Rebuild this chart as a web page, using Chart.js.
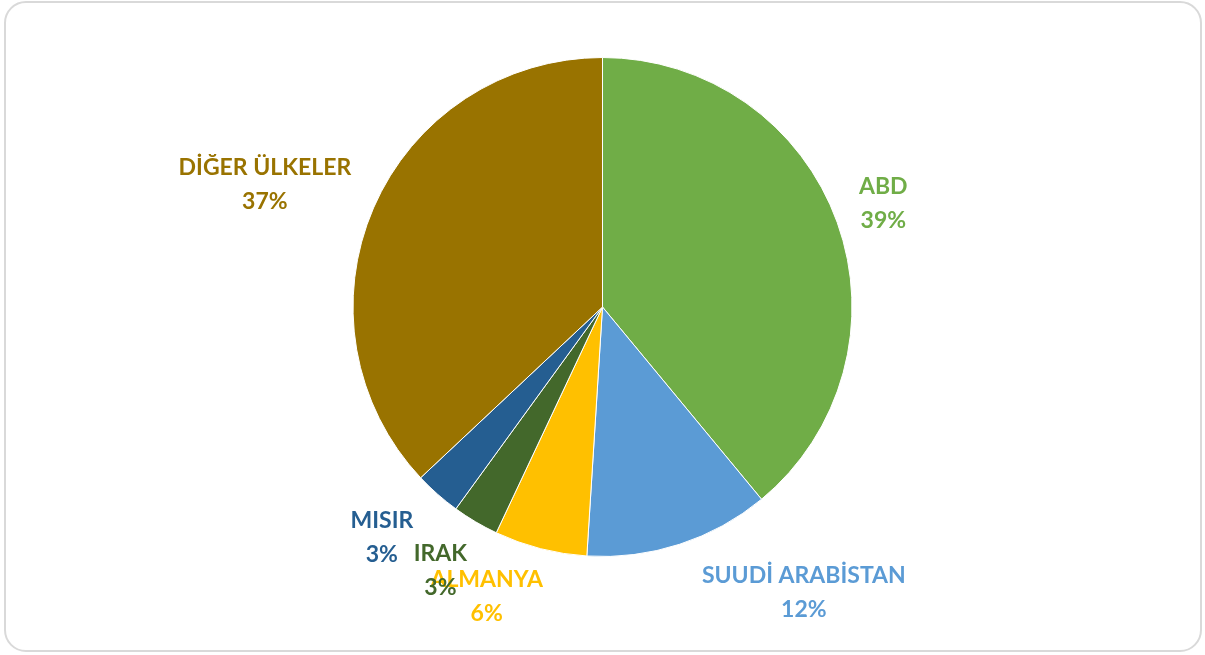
<!DOCTYPE html>
<html>
<head>
<meta charset="utf-8">
<script src="https://cdn.jsdelivr.net/npm/chart.js@4/dist/chart.umd.min.js"></script>
<style>
  html,body{ margin:0; padding:0; background:#fff; }
  #wrap{ position:relative; width:1205px; height:655px; }
  #frame{ position:absolute; left:4px; top:1px; width:1194px; height:647px; border:2px solid #d9d9d9; border-radius:22px; }
  #pie{ position:absolute; left:0; top:0; }
</style>
</head>
<body>
<div id="wrap">
  <div id="frame"></div>
  <canvas id="pie" width="1205" height="655"></canvas>
</div>
<script>
// ----- data -----
const countries = ["ABD", "SUUDİ ARABİSTAN", "ALMANYA", "IRAK", "MISIR", "DİĞER ÜLKELER"];
const shares = [39, 12, 6, 3, 3, 37];
const sliceColors = ["#70ad47", "#5b9bd5", "#ffc000", "#43682b", "#255e91", "#997300"];

// label placement: distance (x radius) and angle nudge (deg) per slice
const labelDist = [1.2, 1.40, 1.25, 1.24, 1.28, 1.44];
const labelShift = [-0.5, -17.2, 7.4, 1.0, 2.3, -3.4];

// ----- outside labels, Excel style -----
const outsideLabels = {
  id: "outsideLabels",
  afterDatasetsDraw(chart){
    const ctx = chart.ctx;
    const meta = chart.getDatasetMeta(0);
    const total = shares.reduce((a,b)=>a+b,0);
    ctx.save();
    ctx.font = "bold 23px Lato, 'Open Sans', sans-serif";
    ctx.textAlign = "center";
    ctx.textBaseline = "middle";
    meta.data.forEach((arc,i)=>{
      const p = arc.getProps(["x","y","startAngle","endAngle","outerRadius"], true);
      const mid = (p.startAngle + p.endAngle)/2 + labelShift[i]*Math.PI/180;
      const r = p.outerRadius * labelDist[i];
      const cx = p.x + Math.cos(mid)*r;
      const cy = p.y + Math.sin(mid)*r;
      ctx.fillStyle = sliceColors[i];
      ctx.fillText(countries[i], cx, cy - 17);
      ctx.fillText(Math.round(shares[i]/total*100) + "%", cx, cy + 17);
    });
    ctx.restore();
  }
};

new Chart(document.getElementById("pie").getContext("2d"), {
  type: "pie",
  data: {
    labels: countries,
    datasets: [{ data: shares, backgroundColor: sliceColors, borderColor: "#ffffff", borderWidth: 1 }]
  },
  options: {
    responsive: false,
    animation: false,
    layout: { padding: { top: 57, bottom: 98 } },
    plugins: { legend: { display: false }, tooltip: { enabled: false } }
  },
  plugins: [outsideLabels]
});
</script>
</body>
</html>
